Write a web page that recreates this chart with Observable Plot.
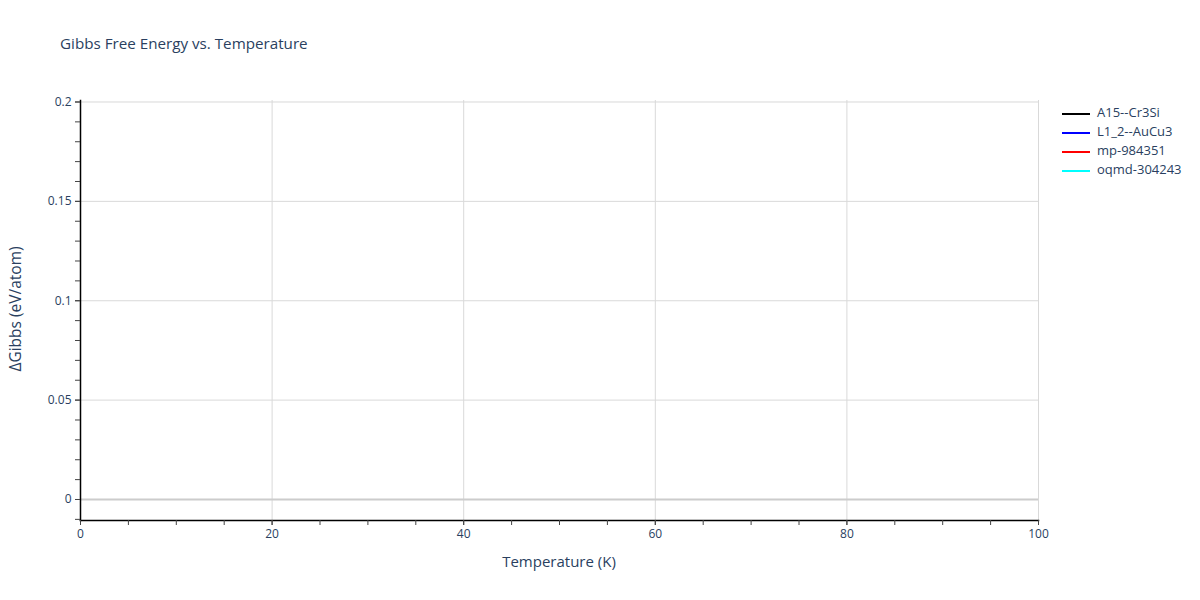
<!DOCTYPE html>
<html>
<head>
<meta charset="utf-8">
<script src="https://cdn.jsdelivr.net/npm/d3@7"></script>
<script src="https://cdn.jsdelivr.net/npm/@observablehq/plot@0.6"></script>
<style>
  html, body { margin: 0; padding: 0; background: #fff; }
  svg { display: block; }
</style>
</head>
<body>
<div id="chart"></div>
<script>
// Series names and colours (legend)
const seriesNames = ["A15--Cr3Si", "L1_2--AuCu3", "mp-984351", "oqmd-304243"];
const seriesColors = ["#000000", "#0000ff", "#ff0000", "#00ffff"];
// Series values: no points fall inside the visible window in the reference
const temperatureK = [];
const gibbsA15 = [];
const gibbsL12 = [];
const gibbsMp = [];
const gibbsOqmd = [];
// Tick labels
const xTickLabels = [0, 20, 40, 60, 80, 100];
const yTickLabels = [0, 0.05, 0.1, 0.15, 0.2];

const seriesValues = [gibbsA15, gibbsL12, gibbsMp, gibbsOqmd];
const rows = seriesValues.flatMap((vals, i) =>
  vals.map((v, j) => ({ series: seriesNames[i], T: temperatureK[j], G: v })));

const font = '"Open Sans", "Liberation Sans", sans-serif';
const textColor = "#2a3f5f";

const xMinor = d3.range(0, 101, 5);
const yMinor = d3.range(-10, 201, 10).map(d => d / 1000);

const chart = Plot.plot({
  width: 1200,
  height: 600,
  marginLeft: 80,
  marginRight: 162,
  marginTop: 100,
  marginBottom: 80,
  style: { fontFamily: font, fontSize: "12px", color: textColor, background: "#fff" },
  x: { domain: [0, 100] },
  y: { domain: [-0.01057, 0.20075] },
  color: { domain: seriesNames, range: seriesColors },
  marks: [
    Plot.gridX(xTickLabels.filter(d => d > 0), { stroke: "#d9d9d9", strokeOpacity: 1 }),
    Plot.gridY(yTickLabels.filter(d => d > 0), { stroke: "#d9d9d9", strokeOpacity: 1 }),
    Plot.ruleY([0], { stroke: "#cccccc", strokeWidth: 2 }),
    Plot.line(rows, { x: "T", y: "G", z: "series", stroke: "series", strokeWidth: 2, clip: true }),
    Plot.frame({ anchor: "bottom", stroke: "#000", strokeWidth: 1.5 }),
    Plot.frame({ anchor: "left", stroke: "#000", strokeWidth: 1.5 }),
    Plot.axisX(xMinor, { tickSize: 5, tickPadding: 4, tickFormat: () => "", stroke: "#444", label: null }),
    Plot.axisX(xTickLabels, { tickSize: 5, tickPadding: 4, fill: textColor, fontSize: 12, stroke: "#444", label: null, tickFormat: d => String(d) }),
    Plot.axisY(yMinor, { tickSize: 5, tickPadding: 3, tickFormat: () => "", stroke: "#444", label: null }),
    Plot.axisY(yTickLabels, { tickSize: 5, tickPadding: 4, fill: textColor, fontSize: 12, stroke: "#444", label: null, tickFormat: d => String(d) })
  ]
});

const svg = d3.select(chart);
svg.selectAll("[aria-label^='y-axis tick label'] text, [aria-label^='x-axis tick label'] text")
  .style("font-size", "12px");
// Title
svg.append("text")
  .attr("x", 60).attr("y", 45)
  .attr("text-anchor", "start")
  .attr("dominant-baseline", "middle")
  .attr("fill", textColor)
  .style("font-family", font).style("font-size", "15.2px")
  .text("Gibbs Free Energy vs. Temperature");
// X axis title
svg.append("text")
  .attr("x", 559).attr("y", 563)
  .attr("text-anchor", "middle").attr("dominant-baseline", "middle")
  .attr("fill", textColor)
  .style("font-family", font).style("font-size", "15px")
  .text("Temperature (K)");
// Y axis title
svg.append("text")
  .attr("transform", "translate(17,309) rotate(-90)")
  .attr("text-anchor", "middle").attr("dominant-baseline", "middle")
  .attr("fill", textColor)
  .style("font-family", font).style("font-size", "15.5px")
  .text("ΔGibbs (eV/atom)");
// Legend
const legend = svg.append("g").attr("transform", "translate(1062,114)");
seriesNames.forEach((name, i) => {
  const g = legend.append("g").attr("transform", `translate(0,${i * 19})`);
  g.append("line").attr("x1", 0).attr("x2", 28).attr("y1", 0).attr("y2", 0)
    .attr("stroke", seriesColors[i]).attr("stroke-width", 2);
  g.append("text").attr("x", 35).attr("y", 0)
    .attr("text-anchor", "start")
    .attr("dominant-baseline", "middle")
    .attr("fill", textColor)
    .style("font-family", font).style("font-size", "13px")
    .text(name);
});

document.getElementById("chart").appendChild(chart);
</script>
</body>
</html>
